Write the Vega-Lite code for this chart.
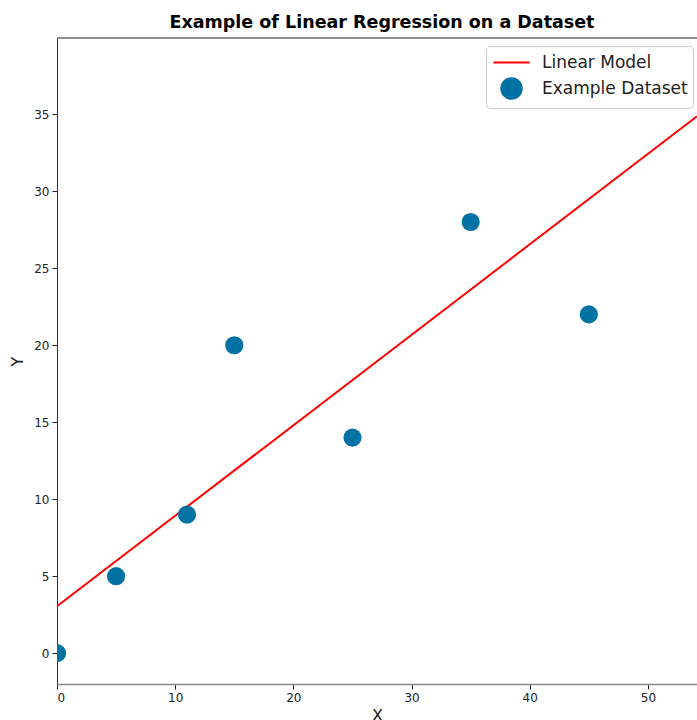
{
  "$schema": "https://vega.github.io/schema/vega-lite/v6.json",
  "autosize": {"type": "none"},
  "padding": {"left": 57, "top": 38, "right": 0, "bottom": 36},
  "width": 640,
  "height": 646,
  "background": "white",
  "config": {
    "view": {"stroke": null},
    "font": "DejaVu Sans",
    "axis": {"labelFont": "DejaVu Sans", "titleFont": "DejaVu Sans", "grid": false},
    "axisBottom": {"titleFontSize": 16, "titleFontWeight": "normal", "titleColor": "#222222", "titlePadding": 4,
      "labelFontSize": 12, "labelColor": "#222222", "labelPadding": 3, "tickCount": 6,
      "tickSize": 5, "tickColor": "#222222", "domainColor": "#888888", "domainWidth": 1.5},
    "axisLeft": {"titleFontSize": 16, "titleFontWeight": "normal", "titleColor": "#222222", "titlePadding": 8,
      "labelFontSize": 12, "labelColor": "#222222", "labelPadding": 3, "tickCount": 8,
      "tickSize": 5, "tickColor": "#222222", "domainColor": "#333333", "domainWidth": 1}
  },
  "title": {
    "text": "Example of Linear Regression on a Dataset",
    "font": "DejaVu Sans",
    "fontSize": 17.5,
    "fontWeight": "bold",
    "color": "black",
    "anchor": "middle",
    "dx": 5,
    "offset": 6
  },
  "datasets": {
    "model": [
      {"x": 0, "y": 3.05, "series": "Linear Model"},
      {"x": 54.15, "y": 34.87, "series": "Linear Model"}
    ],
    "points": [
      {"x": 0, "y": 0, "series": "Example Dataset"},
      {"x": 5, "y": 5, "series": "Example Dataset"},
      {"x": 11, "y": 9, "series": "Example Dataset"},
      {"x": 15, "y": 20, "series": "Example Dataset"},
      {"x": 25, "y": 14, "series": "Example Dataset"},
      {"x": 35, "y": 28, "series": "Example Dataset"},
      {"x": 45, "y": 22, "series": "Example Dataset"}
    ]
  },
  "layer": [
    {
      "data": {"name": "model"},
      "mark": {"type": "line", "strokeWidth": 2, "clip": true},
      "encoding": {
        "x": {"field": "x", "type": "quantitative", "scale": {"domain": [0, 54.15], "nice": false, "zero": false},
          "axis": {"title": "X"}},
        "y": {"field": "y", "type": "quantitative", "scale": {"domain": [-2, 39.95], "nice": false, "zero": false},
          "axis": {"title": "Y"}},
        "color": {"field": "series", "type": "nominal",
          "scale": {"domain": ["Linear Model", "Example Dataset"], "range": ["#ff0000", "#0072a3"]},
          "legend": {
            "title": null,
            "orient": "none",
            "legendX": 429,
            "legendY": 8,
            "direction": "vertical",
            "labelFontSize": 17,
            "labelColor": "#222222",
            "labelFont": "DejaVu Sans",
            "labelOffset": 19,
            "symbolOffset": 9,
            "rowPadding": 3,
            "padding": 5,
            "fillColor": "white",
            "strokeColor": "#cccccc",
            "cornerRadius": 4,
            "symbolSize": 400,
            "zindex": 2,
            "encode": {
              "symbols": {
                "update": {
                  "shape": {"signal": "datum.value === 'Linear Model' ? 'stroke' : 'circle'"},
                  "size": {"signal": "datum.value === 'Linear Model' ? 1300 : 420"},
                  "stroke": {"scale": "color", "field": "value"},
                  "fill": {"scale": "color", "field": "value"},
                  "strokeWidth": {"value": 2},
                  "opacity": {"value": 1}
                }
              }
            }
          }}
      }
    },
    {
      "data": {"name": "points"},
      "mark": {"type": "point", "filled": true, "size": 330, "opacity": 1, "clip": true},
      "encoding": {
        "x": {"field": "x", "type": "quantitative", "axis": {"title": "X"}},
        "y": {"field": "y", "type": "quantitative", "axis": {"title": "Y"}},
        "color": {"field": "series", "type": "nominal"}
      }
    },
    {
      "data": {"name": "model"},
      "mark": {"type": "rule", "strokeWidth": 1.5, "color": "#888888"},
      "encoding": {
        "y": {"datum": 39.95, "type": "quantitative"}
      }
    }
  ]
}
